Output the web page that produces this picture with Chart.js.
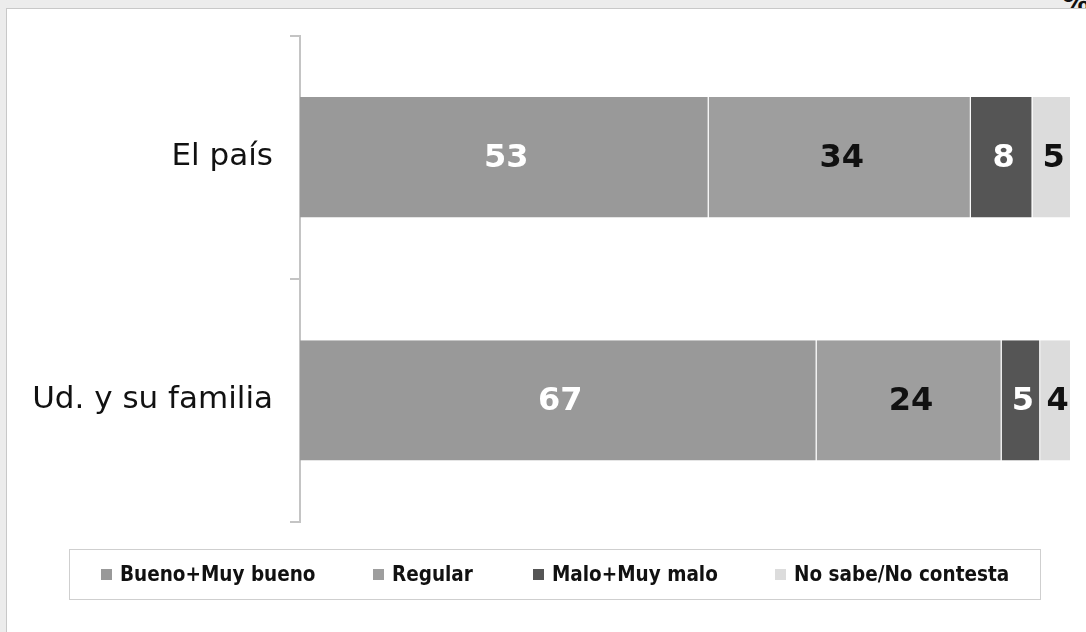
<!DOCTYPE html>
<html>
<head>
<meta charset="utf-8">
<script src="https://cdn.jsdelivr.net/npm/chart.js@4.4.1/dist/chart.umd.min.js"></script>
<style>
  html, body { margin: 0; padding: 0; }
  body { width: 1086px; height: 632px; background: #ececec; position: relative; overflow: hidden; font-family: "DejaVu Sans", sans-serif; }
  #frame { position: absolute; left: 6px; top: 8px; width: 1100px; height: 640px; background: #fff; border: 1px solid #c8c8c8; box-sizing: border-box; z-index: 1; }
  #pct { position: absolute; right: -4px; top: -14px; font: bold 28px "DejaVu Sans", sans-serif; color: #111; z-index: 0; }
  #chart { position: absolute; left: 0; top: 0; z-index: 2; }
  #legend { position: absolute; left: 69px; top: 549px; width: 972px; height: 51px; border: 1px solid #cfcfcf; box-sizing: border-box; z-index: 3; }
  .item { position: absolute; top: 0; height: 49px; font: bold 20.5px "DejaVu Sans Condensed", "DejaVu Sans", sans-serif; line-height: 49px; color: #111; white-space: nowrap; }
  .item i { display: inline-block; width: 11px; height: 11px; margin-right: 8px; vertical-align: 1px; }
</style>
</head>
<body>
<div id="frame"></div>
<div id="pct">%</div>
<canvas id="chart" width="1086" height="632"></canvas>
<div id="legend"></div>
<script>
// Data
const categories = ['El país', 'Ud. y su familia'];
const seriesNames = ['Bueno+Muy bueno', 'Regular', 'Malo+Muy malo', 'No sabe/No contesta'];
const bueno = [53, 67];
const regular = [34, 24];
const malo = [8, 5];
const noSabe = [5, 4];

const colors = ['#999999', '#9e9e9e', '#555555', '#dcdcdc'];
const labelColors = ['#ffffff', '#111111', '#ffffff', '#111111'];
const legendLeft = [31, 303, 463, 705];

// Legend (HTML, framed box under the chart)
const legend = document.getElementById('legend');
seriesNames.forEach((name, i) => {
    const div = document.createElement('div');
    div.className = 'item';
    div.style.left = legendLeft[i] + 'px';
    div.innerHTML = `<i style="background:${colors[i]}"></i>${name}`;
    legend.appendChild(div);
});

// Value labels inside the segments
const valueLabels = {
    id: 'valueLabels',
    afterDatasetsDraw(chart) {
        const ctx = chart.ctx;
        ctx.save();
        ctx.font = 'bold 32px "DejaVu Sans", sans-serif';
        ctx.textAlign = 'center';
        ctx.textBaseline = 'middle';
        chart.data.datasets.forEach((ds, i) => {
            chart.getDatasetMeta(i).data.forEach((bar, j) => {
                ctx.fillStyle = labelColors[i];
                ctx.fillText(ds.data[j], (bar.x + bar.base) / 2 + 2, bar.y + 1);
            });
        });
        ctx.restore();
    }
};

const allValues = [bueno, regular, malo, noSabe];
new Chart(document.getElementById('chart'), {
    type: 'bar',
    data: {
        labels: categories,
        datasets: allValues.map((vals, i) => ({
            label: seriesNames[i],
            data: vals,
            backgroundColor: colors[i],
            borderColor: 'rgba(255,255,255,0.7)',
            borderWidth: { left: 0, right: 1, top: 0, bottom: 0 },
            borderSkipped: false,
            barPercentage: 0.99,
            categoryPercentage: 0.5
        }))
    },
    options: {
        indexAxis: 'y',
        responsive: false,
        animation: false,
        layout: { padding: { left: 0, top: 27, right: 15, bottom: 110 } },
        plugins: { legend: { display: false }, tooltip: { enabled: false } },
        scales: {
            x: { stacked: true, min: 0, max: 100, display: false },
            y: {
                stacked: true,
                afterFit: (scale) => { scale.width = 300; },
                grid: { drawOnChartArea: false, tickLength: 10, color: '#c4c4c4', lineWidth: 2 },
                border: { color: '#c4c4c4', width: 2 },
                ticks: { color: '#111', padding: 17, font: { size: 31, family: '"DejaVu Sans", sans-serif' } }
            }
        }
    },
    plugins: [valueLabels]
});
</script>
</body>
</html>
